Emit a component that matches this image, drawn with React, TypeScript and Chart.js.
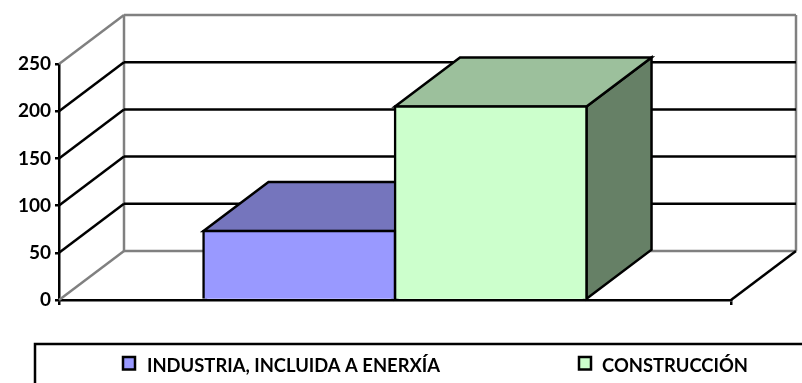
import React, { useEffect, useRef } from "react";
import { Chart, registerables } from "chart.js";

Chart.register(...registerables);

const categories = [""];
const seriesNames = ["INDUSTRIA, INCLUIDA A ENERXÍA", "CONSTRUCCIÓN"];
const industria = [73];
const construccion = [205];
const yTicks = [0, 50, 100, 150, 200, 250];
const frontColors = ["#9999FF", "#CCFFCC"];
const topColors = ["#7575BD", "#9CC09C"];
const sideColors = ["#4F4F8A", "#668066"];
const legendSwatchX = [123, 579];
const legendTextX = [147, 602];

const DX = 65;
const DY = -49;
const LW = 2.5;
const FONT = "Lato, Carlito, sans-serif";

const poly = (ctx: CanvasRenderingContext2D, pts: number[][], fill: string) => {
  ctx.beginPath();
  pts.forEach((p, i) => (i ? ctx.lineTo(p[0], p[1]) : ctx.moveTo(p[0], p[1])));
  ctx.closePath();
  ctx.fillStyle = fill;
  ctx.fill();
  ctx.strokeStyle = "#000";
  ctx.lineWidth = LW;
  ctx.lineJoin = "miter";
  ctx.stroke();
};

const line = (ctx: CanvasRenderingContext2D, a: number[], b: number[], color: string, w = LW) => {
  ctx.beginPath();
  ctx.moveTo(a[0], a[1]);
  ctx.lineTo(b[0], b[1]);
  ctx.strokeStyle = color;
  ctx.lineWidth = w;
  ctx.stroke();
};

const walls = {
  id: "walls",
  beforeDatasetsDraw(chart: any) {
    const { ctx, scales } = chart;
    const y = scales.y;
    const { left, right } = chart.chartArea;
    const y0 = y.getPixelForValue(0);
    const yMax = y.getPixelForValue(yTicks[yTicks.length - 1]);
    ctx.save();
    line(ctx, [left + DX, yMax + DY], [left + DX, y0 + DY], "#808080");
    line(ctx, [right + DX, yMax + DY], [right + DX, y0 + DY], "#808080");
    line(ctx, [left + DX, y0 + DY], [right + DX, y0 + DY], "#808080");
    line(ctx, [left + DX, yMax + DY], [right + DX, yMax + DY], "#808080");
    line(ctx, [left, yMax], [left + DX, yMax + DY], "#808080");
    line(ctx, [left, y0], [left + DX, y0 + DY], "#808080");
    line(ctx, [right, y0], [right + DX, y0 + DY], "#000");
    yTicks.slice(1, -1).forEach((v) => {
      const py = y.getPixelForValue(v);
      line(ctx, [left, py], [left + DX, py + DY], "#000");
      line(ctx, [left + DX, py + DY], [right + DX, py + DY], "#000");
    });
    // 3D faces of every bar, read from the library's bar elements
    chart.data.datasets.forEach((_: any, i: number) => {
      chart.getDatasetMeta(i).data.forEach((bar: any) => {
        const l = bar.x - bar.width / 2;
        const r = bar.x + bar.width / 2;
        const t = bar.y;
        const b = bar.base;
        poly(ctx, [[r, t], [r + DX, t + DY], [r + DX, b + DY], [r, b]], sideColors[i]);
        poly(ctx, [[l, t], [l + DX, t + DY], [r + DX, t + DY], [r, t]], topColors[i]);
      });
    });
    ctx.restore();
  },
};

const legendBox = {
  id: "legendBox",
  afterDraw(chart: any) {
    const { ctx } = chart;
    ctx.save();
    ctx.strokeStyle = "#000";
    ctx.lineWidth = LW;
    ctx.beginPath();
    ctx.moveTo(35, 383);
    ctx.lineTo(35, 344);
    ctx.lineTo(802, 344);
    ctx.stroke();
    ctx.font = `bold 18.4px ${FONT}`;
    ctx.textBaseline = "alphabetic";
    chart.data.datasets.forEach((ds: any, i: number) => {
      ctx.fillStyle = frontColors[i];
      ctx.fillRect(legendSwatchX[i], 357, 12, 12.5);
      ctx.strokeStyle = "#000";
      ctx.lineWidth = LW;
      ctx.strokeRect(legendSwatchX[i], 357, 12, 12.5);
      ctx.fillStyle = "#000";
      ctx.fillText(ds.label, legendTextX[i], 372);
    });
    ctx.restore();
  },
};

export default function App() {
  const ref = useRef<HTMLCanvasElement>(null);
  useEffect(() => {
    const chart = new Chart(ref.current!, {
      type: "bar",
      data: {
        labels: categories,
        datasets: [
          { label: seriesNames[0], data: industria, backgroundColor: frontColors[0], borderColor: "#000", borderWidth: LW, inflateAmount: LW / 2 },
          { label: seriesNames[1], data: construccion, backgroundColor: frontColors[1], borderColor: "#000", borderWidth: LW, inflateAmount: LW / 2 },
        ],
      },
      options: {
        responsive: false,
        animation: false,
        layout: { padding: { left: 0, right: 71, top: 64, bottom: 78 } },
        plugins: { legend: { display: false }, title: { display: false }, tooltip: { enabled: false } },
        datasets: { bar: { barPercentage: 1, categoryPercentage: 0.57 } },
        scales: {
          x: {
            grid: { drawOnChartArea: false, color: "#000", lineWidth: LW, tickLength: 5 },
            border: { color: "#000", width: LW },
            ticks: { display: false },
            afterFit: (s: any) => { s.height = 5; },
          },
          y: {
            min: 0,
            max: 250,
            grid: { drawOnChartArea: false, color: "#000", lineWidth: LW, tickLength: 4 },
            border: { color: "#000", width: LW },
            ticks: { stepSize: 50, color: "#000", padding: 4, font: { family: FONT, size: 19, weight: "bold" } },
            afterFit: (s: any) => { s.width = 59; },
          },
        },
      },
      plugins: [walls, legendBox],
    } as any);
    return () => chart.destroy();
  }, []);
  return <canvas ref={ref} width={802} height={383} style={{ position: "fixed", left: 0, top: 0, display: "block" }} />;
}
